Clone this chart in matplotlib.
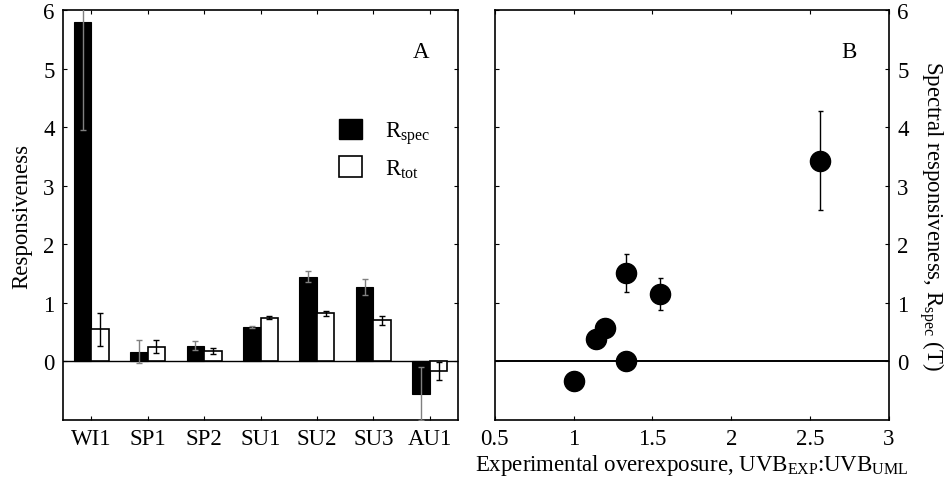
import numpy as np
import matplotlib
matplotlib.use("Agg")
import matplotlib.pyplot as plt
from matplotlib.patches import Patch
from matplotlib.ticker import FormatStrFormatter

plt.rcParams["font.family"] = ["Liberation Serif", "DejaVu Serif"]
plt.rcParams["mathtext.fontset"] = "custom"
plt.rcParams["mathtext.rm"] = "Liberation Serif"
plt.rcParams["mathtext.it"] = "Liberation Serif:italic"

# ── panel A: responsiveness per period ────────────────────────────────
periods = ["WI1", "SP1", "SP2", "SU1", "SU2", "SU3", "AU1"]
r_spec = [5.80, 0.17, 0.27, 0.59, 1.45, 1.27, -0.56]
r_spec_lo = [3.95, -0.03, 0.20, 0.57, 1.35, 1.13, -1.00]
r_spec_hi = [6.30, 0.37, 0.35, 0.61, 1.55, 1.40, -0.10]
r_tot = [0.55, 0.25, 0.18, 0.75, 0.82, 0.70, -0.17]
r_tot_lo = [0.27, 0.14, 0.13, 0.72, 0.78, 0.63, -0.32]
r_tot_hi = [0.83, 0.36, 0.23, 0.78, 0.86, 0.77, -0.01]

# ── panel B: R_spec vs overexposure (None = no error bar drawn) ──────
overexp = [1.00, 1.14, 1.20, 1.33, 1.33, 1.545, 2.56]
rspec_pts = [-0.33, 0.38, 0.57, 1.51, 0.00, 1.15, 3.43]
rspec_err_lo = [None, None, None, 1.19, None, 0.88, 2.59]
rspec_err_hi = [None, None, None, 1.83, None, 1.43, 4.27]

FS = 16.5
GREY = "#808080"

fig = plt.figure(figsize=(9.48, 4.89), dpi=100)
axA = fig.add_axes([0.0665, 0.139, 0.4167, 0.8384])
axB = fig.add_axes([0.522, 0.139, 0.4156, 0.8384])

x = np.arange(1, len(periods) + 1)
w = 0.31
spec = np.array(r_spec)
tot = np.array(r_tot)
axA.bar(x - w / 2, spec, w, color="black", edgecolor="black", lw=0.8, zorder=2)
axA.bar(x + w / 2, tot, w, color="white", edgecolor="black", lw=1.2, zorder=2)
axA.errorbar(x - w / 2, spec,
             yerr=[spec - np.array(r_spec_lo), np.array(r_spec_hi) - spec],
             fmt="none", ecolor=GREY, elinewidth=1.0, capsize=2.5, capthick=1.0,
             zorder=3)
axA.errorbar(x + w / 2, tot,
             yerr=[tot - np.array(r_tot_lo), np.array(r_tot_hi) - tot],
             fmt="none", ecolor="black", elinewidth=1.0, capsize=2.5, capthick=1.0,
             zorder=3)
axA.axhline(0, color="black", lw=1.0, zorder=1)
axA.set_xlim(0.5, 7.5)
axA.set_ylim(-1, 6)
axA.set_xticks(x)
axA.set_xticklabels(periods)
axA.set_yticks(range(0, 7))
axA.set_ylabel("Responsiveness", fontsize=FS, labelpad=8)
axA.text(0.906, 0.898, "A", transform=axA.transAxes, fontsize=FS,
         ha="center", va="center")
axA.legend(handles=[Patch(facecolor="black", edgecolor="black"),
                    Patch(facecolor="white", edgecolor="black", lw=1.2)],
           labels=[r"R$_{\rm spec}$", r"R$_{\rm tot}$"],
           loc="upper left", bbox_to_anchor=(0.699, 0.735), frameon=False,
           fontsize=FS, handlelength=1.0, handleheight=1.0,
           handletextpad=1.0, labelspacing=0.45, borderpad=0,
           borderaxespad=0)

eb = [i for i in range(len(overexp)) if rspec_err_lo[i] is not None]
ex = np.array([overexp[i] for i in eb])
ey = np.array([rspec_pts[i] for i in eb])
elo = np.array([rspec_err_lo[i] for i in eb])
ehi = np.array([rspec_err_hi[i] for i in eb])
axB.errorbar(ex, ey, yerr=[ey - elo, ehi - ey],
             fmt="none", ecolor="black", elinewidth=1.0, capsize=1.8,
             capthick=1.0, zorder=2)
axB.plot(overexp, rspec_pts, "o", color="black", ms=14.5, zorder=3)
axB.axhline(0, color="black", lw=1.4, zorder=1)
axB.set_xlim(0.5, 3)
axB.set_ylim(-1, 6)
axB.set_xticks([0.5, 1, 1.5, 2, 2.5, 3])
axB.xaxis.set_major_formatter(FormatStrFormatter("%g"))
axB.set_yticks(range(0, 7))
axB.yaxis.set_label_position("right")
axB.yaxis.tick_right()
axB.set_ylabel(r"Spectral responsiveness, R$_{\rm spec}$ (T)", fontsize=FS,
               rotation=270, labelpad=27)
axB.set_xlabel(r"Experimental overexposure, UVB$_{\rm EXP}$:UVB$_{\rm UML}$",
               fontsize=FS, labelpad=2)
axB.text(0.898, 0.898, "B", transform=axB.transAxes, fontsize=FS,
         ha="center", va="center")

for ax in (axA, axB):
    for s in ax.spines.values():
        s.set_linewidth(1.2)
    ax.tick_params(direction="in", top=True, bottom=True, left=True,
                   right=True, length=3, width=0.8, labelsize=FS, pad=6)
axB.tick_params(labelleft=False, labelright=True)

fig.savefig("out.png", dpi=100)
